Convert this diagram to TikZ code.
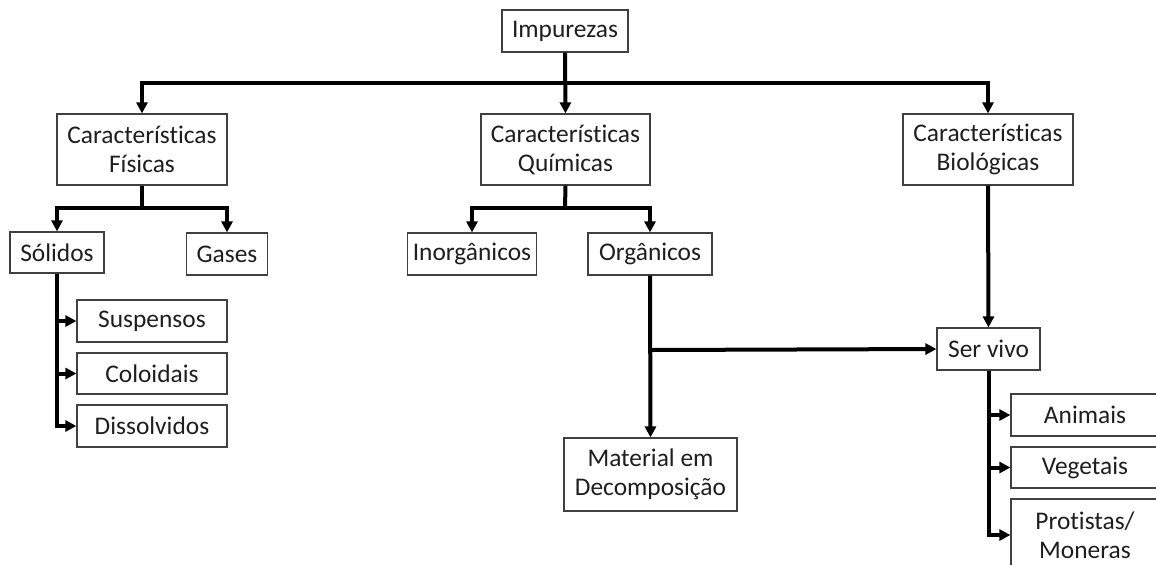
\documentclass[tikz,border=0pt]{standalone}
\usepackage{fontspec}
\setmainfont{Carlito}[Ligatures=NoCommon]
\usepackage{xcolor}
\usetikzlibrary{arrows.meta}
\definecolor{boxgray}{HTML}{404040}
\definecolor{textgray}{HTML}{1E1E1E}

\begin{document}
\begin{tikzpicture}[x=0.5pt,y=-0.5pt,
  box/.style={draw=boxgray,line width=0.6pt,inner sep=0pt,align=center,
    text=textgray,font=\fontsize{12.7}{14.5}\selectfont},
  conn/.style={line width=2pt,-{Triangle[length=5.5pt,width=5.5pt]}},
  trunk/.style={line width=2pt}]
  \useasboundingbox (0,0) rectangle (1156,564);
  % top level
  \node[box,minimum width=63pt,minimum height=21pt] (imp) at (565,31) {Impurezas};
  \node[box,minimum width=85pt,minimum height=35.5pt] (fis) at (142,149.5) {Características\\Físicas};
  \node[box,minimum width=84.5pt,minimum height=35.5pt] (qui) at (565.5,149.5) {Características\\Químicas};
  \node[box,minimum width=85pt,minimum height=35.5pt] (bio) at (988,149.5) {Características\\Biológicas};
  % second level
  \node[box,minimum width=47pt,minimum height=20.5pt] (sol) at (57,252.5) {Sólidos};
  \node[box,minimum width=40.5pt,minimum height=21pt] (gas) at (227,254) {Gases};
  \node[box,minimum width=64.5pt,minimum height=21pt] (inorg) at (472,254) {Inorgânicos};
  \node[box,minimum width=62pt,minimum height=21pt] (org) at (650,254) {Orgânicos};
  % solids
  \node[box,minimum width=75pt,minimum height=21pt] (susp) at (152,321) {Suspensos};
  \node[box,minimum width=75pt,minimum height=20.5pt] (colo) at (152,373.5) {Coloidais};
  \node[box,minimum width=75pt,minimum height=21pt] (diss) at (152,426) {Dissolvidos};
  % organics and living beings
  \node[box,minimum width=86.5pt,minimum height=36.5pt] (mat) at (650.5,474.5) {Material em\\Decomposição};
  \node[box,minimum width=51.5pt,minimum height=21pt] (ser) at (988.5,349) {Ser vivo};
  \node[box,minimum width=74pt,minimum height=21pt] (ani) at (1085,415) {Animais};
  \node[box,minimum width=74pt,minimum height=20.5pt] (veg) at (1085,467.5) {Vegetais};
  \node[box,minimum width=74pt,minimum height=36pt] (prot) at (1085,535) {Protistas/\\Moneras};
  % connectors
  \coordinate (topj) at (565,83);
  \coordinate (fisj) at (142,208);
  \coordinate (quij) at (565,208);
  \coordinate (orgj) at (650,350);
  \draw[conn] (imp.south) -- (qui.north);
  \draw[conn] (topj) -| (fis.north);
  \draw[conn] (topj) -| (bio.north);
  \draw[trunk] (fis.south) -- (fisj);
  \draw[conn] (fisj) -| (sol.north);
  \draw[conn] (fisj) -| (gas.north);
  \draw[trunk] (qui.south) -- (quij);
  \draw[conn] (quij) -| (inorg.north);
  \draw[conn] (quij) -| (org.north);
  \draw[conn] (sol.south) |- (diss.west);
  \draw[conn] (sol.south |- susp.west) -- (susp.west);
  \draw[conn] (sol.south |- colo.west) -- (colo.west);
  \draw[conn] (org.south) -- (mat.north);
  \draw[conn] (orgj) -- (ser.west);
  \draw[conn] (bio.south) -- (ser.north);
  \draw[conn] (ser.south) |- (prot.west);
  \draw[conn] (ser.south |- ani.west) -- (ani.west);
  \draw[conn] (ser.south |- veg.west) -- (veg.west);
\end{tikzpicture}
\end{document}
